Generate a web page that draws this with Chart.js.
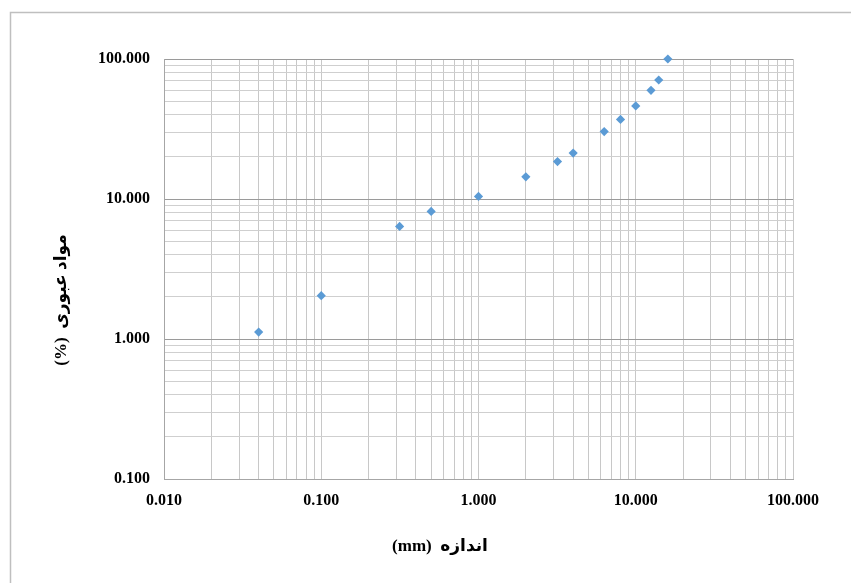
<!DOCTYPE html>
<html>
<head>
<meta charset="utf-8">
<script src="https://cdn.jsdelivr.net/npm/chart.js@4/dist/chart.umd.min.js"></script>
<style>
  body { margin: 0; background: #fff; }
</style>
</head>
<body>
<canvas id="chart" width="851" height="583"></canvas>
<script>
// Grain size (mm) against percent passing
const sizes   = [0.04, 0.1, 0.315, 0.5, 1, 2, 3.18, 4, 6.3, 8, 10, 12.5, 14, 16];
const passing = [1.12, 2.04, 6.37, 8.15, 10.44, 14.4, 18.5, 21.3, 30.3, 37.0, 46.2, 59.7, 70.8, 100];

// Decade tick labels on both log axes
const xDecades = [0.01, 0.1, 1, 10, 100];
const yDecades = [0.1, 1, 10, 100];

const xTitle = 'اندازه  (mm)';
const yTitle = 'مواد عبوری  (%)';

const labelFont = { family: '"Liberation Serif", "Times New Roman", serif', size: 16, weight: 'bold' };
const titleFont = 'bold 17px "Liberation Serif", "DejaVu Sans", serif';

// 1..9 lines inside every decade
function logGrid(decades) {
    const vals = [];
    for (let i = 0; i < decades.length - 1; i++) {
        for (let k = 1; k <= 9; k++) vals.push(+(decades[i] * k).toPrecision(6));
    }
    vals.push(decades[decades.length - 1]);
    return vals;
}

function isDecade(v, decades) {
    return decades.some(d => Math.abs(d - v) < d * 1e-6);
}

// Outer frame and the two axis titles
const frameAndTitles = {
    id: 'frameAndTitles',
    beforeDraw(chart) {
        const ctx = chart.ctx;
        ctx.save();
        ctx.fillStyle = '#fff';
        ctx.fillRect(0, 0, chart.width, chart.height);
        ctx.strokeStyle = '#bfbfbf';
        ctx.lineWidth = 1.5;
        ctx.strokeRect(10.5, 12.5, 900, 700);
        ctx.restore();
    },
    afterDraw(chart) {
        const ctx = chart.ctx;
        const a = chart.chartArea;
        ctx.save();
        ctx.font = titleFont;
        ctx.fillStyle = '#000';
        ctx.direction = 'rtl';
        ctx.textAlign = 'center';
        ctx.textBaseline = 'middle';
        ctx.fillText(xTitle, a.left + 276, a.bottom + 68);
        ctx.translate(a.left - 102, a.top + 241);
        ctx.rotate(-Math.PI / 2);
        ctx.fillText(yTitle, 0, 0);
        ctx.restore();
    }
};

const ctx = document.getElementById('chart').getContext('2d');
const chart = new Chart(ctx, {
    type: 'scatter',
    data: {
        datasets: [{
            data: sizes.map((s, i) => ({ x: s, y: passing[i] })),
            clip: false,
            pointStyle: 'rectRot',
            pointRadius: 4.6,
            pointBackgroundColor: '#5B9BD5',
            pointBorderColor: '#5B9BD5',
            pointBorderWidth: 0
        }]
    },
    options: {
        responsive: false,
        animation: false,
        layout: { padding: { top: 59, right: 58, left: 0, bottom: 0 } },
        plugins: {
            legend: { display: false },
            tooltip: { enabled: false }
        },
        scales: {
            x: {
                type: 'logarithmic',
                min: xDecades[0],
                max: xDecades[xDecades.length - 1],
                afterBuildTicks: s => { s.ticks = logGrid(xDecades).map(v => ({ value: v })); },
                afterFit: s => { s.height = 104; },
                grid: { color: '#c8c8c8', lineWidth: 1, drawTicks: false },
                border: { color: '#a6a6a6', width: 1 },
                ticks: {
                    autoSkip: false,
                    maxRotation: 0,
                    padding: 12,
                    color: '#000',
                    font: labelFont,
                    callback: v => isDecade(v, xDecades) ? v.toFixed(3) : ''
                }
            },
            y: {
                type: 'logarithmic',
                min: yDecades[0],
                max: yDecades[yDecades.length - 1],
                afterBuildTicks: s => { s.ticks = logGrid(yDecades).map(v => ({ value: v })); },
                afterFit: s => { s.width = 164; },
                grid: {
                    drawTicks: false,
                    lineWidth: 1,
                    color: c => isDecade(c.tick.value, yDecades) ? '#9a9a9a' : '#cfcfcf'
                },
                border: { color: '#a6a6a6', width: 1 },
                ticks: {
                    autoSkip: false,
                    padding: 14,
                    color: '#000',
                    font: labelFont,
                    callback: v => isDecade(v, yDecades) ? v.toFixed(3) : ''
                }
            }
        }
    },
    plugins: [frameAndTitles]
});
</script>
</body>
</html>
